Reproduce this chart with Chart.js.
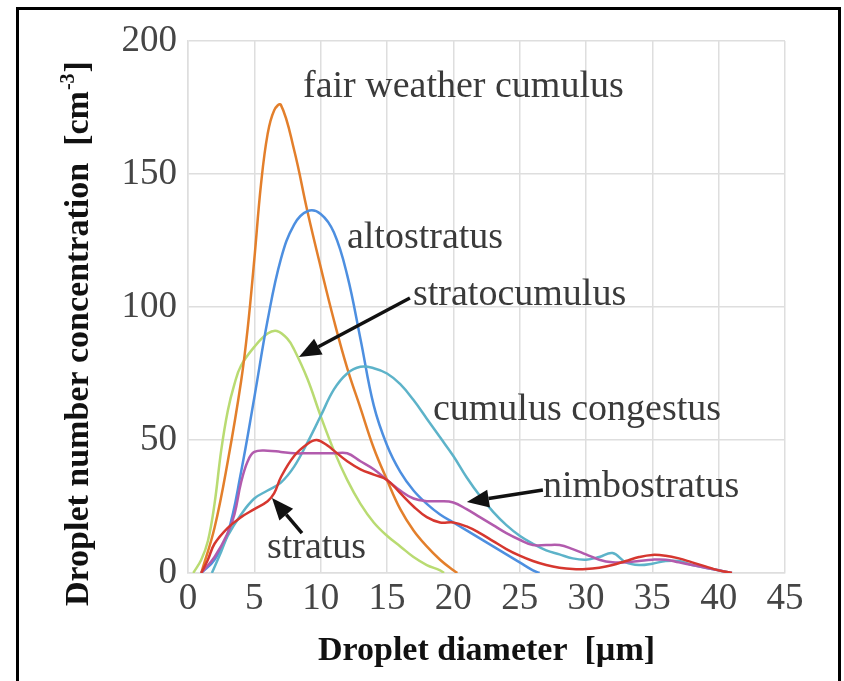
<!DOCTYPE html>
<html>
<head>
<meta charset="utf-8">
<script src="https://cdn.jsdelivr.net/npm/chart.js@4.4.1/dist/chart.umd.min.js"></script>
<style>
  html, body { margin: 0; padding: 0; background: #fff; }
  #wrap { width: 844px; height: 681px; position: relative; }
</style>
</head>
<body>
<div id="wrap"><canvas id="dropletChart" width="844" height="681"></canvas></div>
<script>
// Tick values
var xTicks = [0, 5, 10, 15, 20, 25, 30, 35, 40, 45];
var yTicks = [0, 50, 100, 150, 200];

// Droplet diameter [um], concentration [cm-3] pairs
var fairWeatherCumulus = [[1,0],[2,17],[3,42],[4,72],[4.5,92],[5,118],[5.5,146],[6,165],[6.5,174],[7,176],[8,159],[9,136],[10,115],[11,95],[12,77],[13,62],[14,47],[15,35],[16,24],[17,16],[18,10],[19,5],[20,1],[20.3,0]];
var altostratus = [[1,0],[2,5],[3,15],[4,38],[5,66],[6,95],[7,118],[8,131],[9,136],[10,135],[11,128],[12,112],[13,88],[14,63],[15,48],[16,38],[17,31],[18,26],[19,22],[20,19],[21,16],[22,13],[23,10],[24,7],[25,4],[26,1],[26.5,0]];
var stratocumulus = [[0.4,0],[1,5],[1.5,12],[2,26],[2.5,46],[3,61],[3.5,71],[4,78],[5,85],[6,90],[6.7,91],[7.5,88],[8,84],[9,73],[10,59],[11,46],[12,35],[13,26],[14,19],[15,14],[16,10],[17,6],[18,3],[19,1],[19.3,0]];
var cumulusCongestus = [[1.8,0],[2.5,8],[3,14],[4,22],[5,28],[6,31],[7,34],[8,40],[9,49],[10,59],[11,69],[12,75],[13,77.5],[14,77],[15,75],[16,71],[17,65],[18,58],[19,51],[20,44],[21,36],[22,29],[23,23],[24,18],[25,14],[26,11],[27,8.5],[28,7],[29,5.5],[30,5],[31,6],[32,7.5],[33,4],[34,3],[35,3.5],[36,4.5],[37,4.5],[38,3],[39,2],[40,1],[41,0]];
var nimbostratus = [[1,0],[2,6],[3,15],[3.5,22],[4,34],[4.5,42],[5,45.5],[6,46],[7,45.5],[8,45],[9,45],[10,45],[11,45],[12,45],[13,42],[14,39],[15,35],[16,31],[17,28],[18,27],[19,27],[20,26.5],[21,24],[22,21],[23,18],[24,15],[25,12.5],[26,10.5],[27,10.5],[28,10.5],[29,9],[30,7],[31,5],[32,4],[33,4],[34,4.5],[35,5],[36,5],[37,4],[38,3],[39,2],[40,1],[41,0]];
var stratus = [[1,0],[1.5,5],[2,11],[3,17],[4,21],[5,24],[6,27],[6.5,30],[7,36],[8,44],[9,48.5],[9.7,50],[10.5,48],[11,46],[12,42],[13,39],[14,37],[15,35],[16,30],[17,25],[18,21],[19,19],[20,19],[21,17.5],[22,15],[23,12],[24,9],[25,6.5],[26,4.5],[27,3],[28,2],[29,1.5],[30,1.5],[31,2],[32,3],[33,4.5],[34,6],[35,6.8],[36,6.5],[37,5.5],[38,4],[39,2.5],[40,1],[41,0]];

// Labels and arrows placed in data units
var cloudLabels = [
    { text: 'fair weather cumulus', x: 8.67, y: 179 },
    { text: 'altostratus', x: 11.98, y: 122 },
    { text: 'stratocumulus', x: 16.96, y: 100.7 },
    { text: 'cumulus congestus', x: 18.46, y: 57.5 },
    { text: 'nimbostratus', x: 26.75, y: 28.6 },
    { text: 'stratus', x: 5.95, y: 5.6 }
];
var arrows = [
    { from: [16.73, 103.4], to: [8.36, 81.2] },
    { from: [8.59, 15], to: [6.33, 28.2] },
    { from: [26.75, 31.2], to: [21.02, 26.7] }
];

var serif = '"Liberation Serif", "Times New Roman", serif';

function toPoints(arr) {
    return arr.map(function (p) { return { x: p[0], y: p[1] }; });
}

function lineSet(label, arr, color) {
    return {
        label: label,
        data: toPoints(arr),
        borderColor: color,
        borderWidth: 2.5,
        pointRadius: 0,
        fill: false,
        tension: 0.4
    };
}

// cadre noir + annotations
var extras = {
    id: 'extras',
    beforeDraw: function (chart) {
        var c = chart.ctx;
        c.save();
        c.fillStyle = '#fff';
        c.fillRect(0, 0, chart.width, chart.height);
        c.strokeStyle = '#000';
        c.lineWidth = 3;
        c.strokeRect(17.5, 8.5, 822, 700);
        c.restore();
    },
    afterDraw: function (chart) {
        var c = chart.ctx;
        var xs = chart.scales.x, ys = chart.scales.y;
        c.save();
        c.font = '38px ' + serif;
        c.fillStyle = '#3a3a3a';
        c.textBaseline = 'alphabetic';
        c.textAlign = 'left';
        cloudLabels.forEach(function (l) {
            c.fillText(l.text, xs.getPixelForValue(l.x), ys.getPixelForValue(l.y));
        });

        c.strokeStyle = '#111';
        c.fillStyle = '#111';
        c.lineWidth = 3.5;
        arrows.forEach(function (a) {
            var x1 = xs.getPixelForValue(a.from[0]), y1 = ys.getPixelForValue(a.from[1]);
            var x2 = xs.getPixelForValue(a.to[0]), y2 = ys.getPixelForValue(a.to[1]);
            var ang = Math.atan2(y2 - y1, x2 - x1);
            var hl = 22, hw = 9;
            var bx = x2 - hl * Math.cos(ang), by = y2 - hl * Math.sin(ang);
            c.beginPath();
            c.moveTo(x1, y1);
            c.lineTo(bx, by);
            c.stroke();
            c.beginPath();
            c.moveTo(x2, y2);
            c.lineTo(bx + hw * Math.sin(ang), by - hw * Math.cos(ang));
            c.lineTo(bx - hw * Math.sin(ang), by + hw * Math.cos(ang));
            c.closePath();
            c.fill();
        });

        // y axis title with superscript
        c.translate(88, 606);
        c.rotate(-Math.PI / 2);
        c.fillStyle = '#111';
        c.font = 'bold 34px ' + serif;
        var main = 'Droplet number concentration  [cm';
        c.fillText(main, 0, 0);
        var w = c.measureText(main).width;
        c.font = 'bold 20px ' + serif;
        c.fillText('-3', w + 1, -14);
        var w2 = c.measureText('-3').width;
        c.font = 'bold 34px ' + serif;
        c.fillText(']', w + w2 + 2, 0);
        c.restore();
    }
};

var ctx = document.getElementById('dropletChart').getContext('2d');
var dropletChart = new Chart(ctx, {
    type: 'line',
    data: {
        datasets: [
            lineSet('stratus', stratus, '#d6372f'),
            lineSet('nimbostratus', nimbostratus, '#b25bad'),
            lineSet('cumulus congestus', cumulusCongestus, '#5db3c9'),
            lineSet('altostratus', altostratus, '#4d8fe0'),
            lineSet('fair weather cumulus', fairWeatherCumulus, '#e37f2b'),
            lineSet('stratocumulus', stratocumulus, '#b9db72')
        ]
    },
    options: {
        responsive: false,
        animation: false,
        layout: { padding: { left: 0, right: 59, top: 41, bottom: 0 } },
        plugins: {
            legend: { display: false },
            tooltip: { enabled: false }
        },
        scales: {
            x: {
                type: 'linear',
                min: 0,
                max: 45,
                afterFit: function (s) { s.height = 108; },
                afterBuildTicks: function (s) { s.ticks = xTicks.map(function (v) { return { value: v }; }); },
                grid: { color: '#dedede', lineWidth: 1.5, drawTicks: false },
                border: { color: '#dedede', width: 1.5 },
                ticks: { color: '#454545', padding: 4, maxRotation: 0, autoSkip: false, font: { family: serif, size: 37 } },
                title: {
                    display: true,
                    text: 'Droplet diameter  [\u00b5m]',
                    color: '#111',
                    padding: { top: 0, bottom: 9 },
                    font: { family: serif, size: 34, weight: 'bold' }
                }
            },
            y: {
                min: 0,
                max: 200,
                afterFit: function (s) { s.width = 188; },
                afterBuildTicks: function (s) { s.ticks = yTicks.map(function (v) { return { value: v }; }); },
                grid: { color: '#dedede', lineWidth: 1.5, drawTicks: false },
                border: { color: '#dedede', width: 1.5 },
                ticks: { color: '#454545', padding: 11, font: { family: serif, size: 37 } }
            }
        }
    },
    plugins: [extras]
});
</script>
</body>
</html>
